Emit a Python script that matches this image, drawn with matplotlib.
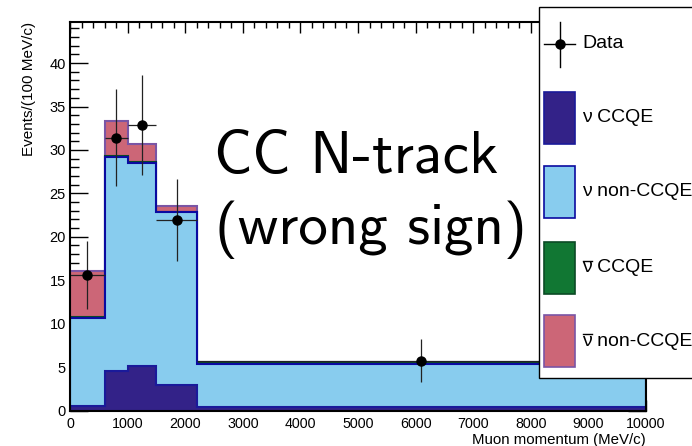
import matplotlib
matplotlib.use("Agg")
import matplotlib.pyplot as plt
from matplotlib.patches import Rectangle
from matplotlib.lines import Line2D
from matplotlib.ticker import MultipleLocator
import numpy as np

# ---------------- data ----------------
bin_edges = [0, 600, 1000, 1500, 2200, 10000]
nu_ccqe = [0.5, 4.6, 5.1, 2.9, 0.45]
nu_nonccqe = [10.1, 24.6, 23.45, 19.9, 4.95]
nubar_ccqe = [0.15, 0.05, 0.05, 0.05, 0.02]
nubar_nonccqe = [5.3, 4.1, 2.1, 0.7, 0.08]
data_values = [15.6, 31.4, 32.9, 21.9, 5.75]
data_errors = [3.95, 5.6, 5.75, 4.7, 2.45]

legend_labels = ["Data", "\u03bd CCQE", "\u03bd non-CCQE", "\u03bd CCQE", "\u03bd non-CCQE"]
legend_bar = [False, False, False, True, True]   # antineutrino: overline on nu

# ---------------- style ----------------
FONT = "Liberation Sans"
plt.rcParams['font.family'] = [FONT, 'DejaVu Sans']

W, H = 692, 446
fig = plt.figure(figsize=(W / 100, H / 100), dpi=100)
ax = fig.add_axes([70 / W, 1 - 410.5 / H, (646 - 70) / W, (410.5 - 22.3) / H])

fills = ["#332288", "#88CCEE", "#117733", "#CC6677"]
edges_c = ["#1a1a9a", "#0a0aa0", "#0b4a25", "#7a55a5"]
comps = [nu_ccqe, nu_nonccqe, nubar_ccqe, nubar_nonccqe]

edges = np.array(bin_edges, dtype=float)
cum = np.cumsum(np.array(comps, dtype=float), axis=0)

# ROOT-like stack: draw cumulative from top down, each filled from zero
for i in range(len(comps) - 1, -1, -1):
    z = 2 + (len(comps) - i)
    ax.stairs(cum[i], edges, baseline=0, fill=True, facecolor=fills[i],
              edgecolor='none', zorder=z)
    ax.stairs(cum[i], edges, baseline=None, fill=False, color=edges_c[i],
              linewidth=1.5, zorder=z + 0.5)
    ax.vlines([edges[0], edges[-1]], 0, [cum[i][0], cum[i][-1]],
              color=edges_c[i], linewidth=1.5, zorder=z + 0.5)

centers = 0.5 * (edges[:-1] + edges[1:])
halfw = 0.5 * (edges[1:] - edges[:-1])
ax.errorbar(centers, data_values, xerr=halfw, yerr=data_errors, fmt='o',
            color='black', ecolor='#222222', markersize=6.5, elinewidth=0.9,
            capsize=0, zorder=20)

ax.set_xlim(0, 10000)
ax.set_ylim(0, 44.7)
ax.xaxis.set_major_locator(MultipleLocator(1000))
ax.xaxis.set_minor_locator(MultipleLocator(200))
ax.yaxis.set_major_locator(MultipleLocator(5))
ax.yaxis.set_minor_locator(MultipleLocator(1))
ax.tick_params(axis='x', which='major', direction='in', length=8, width=1.0,
               top=True, labelsize=10.3, pad=4.5)
ax.tick_params(axis='x', which='minor', direction='in', length=4, width=1.0, top=True)
ax.tick_params(axis='y', which='major', direction='in', length=13, width=1.0,
               right=True, labelsize=10.5, pad=3)
ax.tick_params(axis='y', which='minor', direction='in', length=6.5, width=1.0, right=True)
for lab in ax.get_xticklabels() + ax.get_yticklabels():
    lab.set_fontfamily(FONT)
for s in ax.spines.values():
    s.set_linewidth(1.5)
    s.set_zorder(30)

fig.text(646 / W, 1 - 444 / H, "Muon momentum (MeV/c)", ha='right', va='baseline',
         fontsize=10.8, family=FONT)
fig.text(29 / W, 1 - 22 / H, "Events/(100 MeV/c)", ha='center', va='top',
         rotation=90, fontsize=11, family=FONT)

# big annotation
fig.text(214 / W, 1 - 173 / H, "CC N-track", ha='left', va='baseline',
         fontsize=43, family='cmss10')
fig.text(215 / W, 1 - 244 / H, "(wrong sign)", ha='left', va='baseline',
         fontsize=42.5, family='cmss10')

# legend box (extends past right edge, as in the reference)
box = Rectangle((539 / W, 1 - 378 / H), 0.5, (378 - 7) / H, transform=fig.transFigure,
                facecolor='white', edgecolor='black', linewidth=1.0, zorder=40)
fig.add_artist(box)
ly = [44, 118, 192, 268, 341]
# data entry
fig.add_artist(Line2D([544 / W, 575 / W], [1 - ly[0] / H] * 2, transform=fig.transFigure,
                      color='black', linewidth=1.0, zorder=41))
fig.add_artist(Line2D([559.5 / W] * 2, [1 - 22 / H, 1 - 67 / H], transform=fig.transFigure,
                      color='black', linewidth=1.0, zorder=41))
fig.add_artist(Line2D([559.5 / W], [1 - ly[0] / H], transform=fig.transFigure, marker='o',
                      color='black', markersize=6.5, zorder=42))
for k in range(4):
    y = ly[k + 1]
    fig.add_artist(Rectangle((544 / W, 1 - (y + 26) / H), 31 / W, 52 / H,
                             transform=fig.transFigure, facecolor=fills[k],
                             edgecolor=edges_c[k], linewidth=1.2, zorder=41))
for k, lab in enumerate(legend_labels):
    fig.text(582 / W, 1 - ly[k] / H, lab, ha='left', va='center', fontsize=14,
             family=[FONT, 'DejaVu Sans'], zorder=42)
    if legend_bar[k]:
        fig.add_artist(Line2D([582.5 / W, 592 / W], [1 - (ly[k] - 7.5) / H] * 2,
                              transform=fig.transFigure, color='black',
                              linewidth=1.0, zorder=43))

fig.savefig("out.png", dpi=100)
